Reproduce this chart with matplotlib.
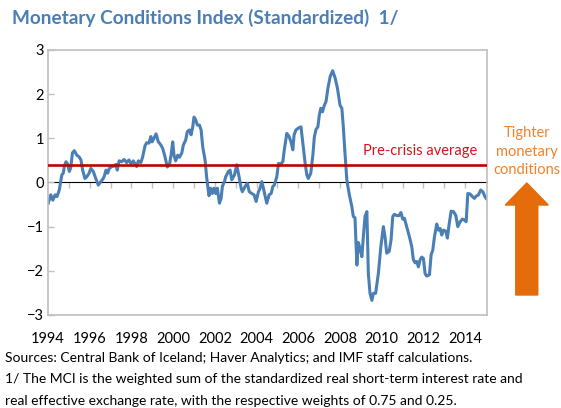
import matplotlib
matplotlib.use("Agg")
import matplotlib.pyplot as plt
from matplotlib.patches import FancyArrow

plt.rcParams["font.family"] = ["Lato", "DejaVu Sans"]

# Monetary conditions index (decimal years)
dates = [
    1994.01, 1994.13, 1994.23, 1994.34, 1994.43, 1994.54, 1994.66, 1994.73, 1994.78, 1994.86,
    1994.94, 1995.02, 1995.09, 1995.17, 1995.26, 1995.38, 1995.49, 1995.58, 1995.66, 1995.77,
    1995.86, 1995.97, 1996.05, 1996.17, 1996.29, 1996.41, 1996.53, 1996.62, 1996.69, 1996.78,
    1996.86, 1996.94, 1997.06, 1997.17, 1997.26, 1997.32, 1997.41, 1997.53, 1997.65, 1997.77,
    1997.88, 1997.98, 1998.09, 1998.17, 1998.25, 1998.33, 1998.45, 1998.54, 1998.65, 1998.73,
    1998.84, 1998.93, 1998.99, 1999.08, 1999.18, 1999.29, 1999.41, 1999.50, 1999.61, 1999.72,
    1999.82, 1999.90, 1999.98, 2000.04, 2000.12, 2000.22, 2000.30, 2000.41, 2000.49, 2000.60,
    2000.68, 2000.78, 2000.86, 2000.94, 2001.00, 2001.08, 2001.16, 2001.26, 2001.34, 2001.42,
    2001.53, 2001.61, 2001.72, 2001.80, 2001.88, 2001.96, 2002.04, 2002.12, 2002.22, 2002.30,
    2002.36, 2002.46, 2002.52, 2002.65, 2002.73, 2002.81, 2002.94, 2003.05, 2003.16, 2003.26,
    2003.32, 2003.45, 2003.56, 2003.65, 2003.77, 2003.88, 2003.98, 2004.09, 2004.17, 2004.25,
    2004.33, 2004.41, 2004.49, 2004.60, 2004.70, 2004.78, 2004.85, 2004.97, 2005.05, 2005.16,
    2005.26, 2005.33, 2005.45, 2005.56, 2005.65, 2005.74, 2005.80, 2005.89, 2006.00, 2006.13,
    2006.22, 2006.33, 2006.41, 2006.48, 2006.60, 2006.70, 2006.77, 2006.85, 2006.94, 2007.01,
    2007.08, 2007.16, 2007.25, 2007.33, 2007.42, 2007.53, 2007.65, 2007.77, 2007.88, 2008.00,
    2008.09, 2008.16, 2008.24, 2008.33, 2008.45, 2008.57, 2008.64, 2008.72, 2008.81, 2008.88,
    2008.96, 2009.05, 2009.12, 2009.20, 2009.29, 2009.36, 2009.44, 2009.53, 2009.60, 2009.71,
    2009.84, 2009.96, 2010.08, 2010.16, 2010.24, 2010.36, 2010.45, 2010.53, 2010.61, 2010.72,
    2010.83, 2010.92, 2011.01, 2011.09, 2011.20, 2011.33, 2011.44, 2011.52, 2011.60, 2011.68,
    2011.76, 2011.84, 2011.92, 2012.00, 2012.08, 2012.16, 2012.29, 2012.37, 2012.45, 2012.53,
    2012.64, 2012.72, 2012.80, 2012.88, 2012.96, 2013.07, 2013.15, 2013.23, 2013.33, 2013.44,
    2013.55, 2013.65, 2013.76, 2013.87, 2013.97, 2014.05, 2014.13, 2014.24, 2014.35, 2014.45,
    2014.53, 2014.64, 2014.75, 2014.85, 2014.95, 2015.01,
]
mci = [
    -0.47, -0.28, -0.40, -0.28, -0.32, -0.17, 0.17, 0.21, 0.36, 0.47,
    0.42, 0.25, 0.33, 0.67, 0.72, 0.62, 0.58, 0.51, 0.28, 0.09,
    0.13, 0.21, 0.32, 0.25, 0.09, -0.06, 0.02, 0.07, 0.13, 0.28,
    0.21, 0.32, 0.36, 0.37, 0.41, 0.28, 0.49, 0.47, 0.52, 0.45,
    0.51, 0.42, 0.49, 0.42, 0.36, 0.49, 0.45, 0.58, 0.83, 0.90,
    0.89, 1.04, 0.92, 1.00, 1.10, 0.92, 0.85, 0.77, 0.58, 0.35,
    0.40, 0.62, 0.92, 0.62, 0.49, 0.62, 0.57, 0.66, 0.85, 0.96,
    1.15, 1.19, 1.08, 1.26, 1.48, 1.42, 1.30, 1.30, 1.19, 0.80,
    0.51, 0.10, -0.30, -0.13, -0.25, -0.13, -0.25, -0.13, -0.47, -0.36,
    -0.09, 0.02, 0.13, 0.25, 0.28, 0.06, 0.17, 0.40, 0.13, -0.13,
    -0.21, -0.09, -0.02, -0.21, -0.25, -0.28, -0.43, -0.21, -0.13, 0.02,
    -0.13, -0.31, -0.47, -0.28, -0.25, -0.09, -0.06, 0.13, 0.43, 0.42,
    0.47, 0.74, 1.11, 1.04, 0.92, 0.74, 1.08, 1.19, 1.23, 1.26,
    0.89, 0.43, 0.17, 0.09, 0.21, 0.62, 1.03, 1.20, 1.26, 1.53,
    1.68, 1.60, 1.75, 1.83, 2.13, 2.40, 2.53, 2.36, 2.13, 1.75,
    1.68, 1.26, 0.66, 0.05, -0.28, -0.55, -0.77, -0.80, -1.87, -1.36,
    -1.49, -1.68, -1.23, -0.77, -0.66, -2.06, -2.51, -2.67, -2.51, -2.51,
    -2.06, -1.45, -1.00, -1.23, -1.60, -1.56, -1.30, -0.77, -0.72, -0.75,
    -0.75, -0.68, -0.83, -0.81, -1.00, -1.23, -1.45, -1.75, -1.82, -1.79,
    -1.91, -1.75, -1.69, -1.72, -2.06, -2.12, -2.09, -1.64, -1.53, -1.23,
    -0.94, -1.08, -1.04, -1.19, -1.08, -1.10, -1.26, -0.96, -0.65, -0.66,
    -0.74, -1.00, -0.89, -0.83, -0.85, -0.89, -0.25, -0.26, -0.32, -0.36,
    -0.31, -0.28, -0.17, -0.21, -0.32, -0.36,
]
pre_crisis_avg = 0.39

year_labels = list(range(1994, 2015, 2))
year_ticks = list(range(1995, 2015))
y_ticks = [-3, -2, -1, 0, 1, 2, 3]

BLUE = "#4a7fb5"
RED = "#c00000"
ORANGE = "#e46c0a"
GRAY = "#bfbfbf"

fig = plt.figure(figsize=(5.61, 4.08), dpi=100)
ax = fig.add_axes([0.0856, 0.228, 0.7825, 0.6495])

ax.plot(dates, mci, color=BLUE, lw=2.2, solid_joinstyle="round", zorder=2)
ax.axhline(pre_crisis_avg, color=RED, lw=1.9, zorder=3)

ax.set_xlim(1994.0, 2015.05)
ax.set_ylim(-3, 3)

for side in ["left", "right", "top", "bottom"]:
    ax.spines[side].set_color(GRAY)
    ax.spines[side].set_linewidth(1.2)

ax.set_yticks(y_ticks)
ax.tick_params(axis="y", direction="in", length=4, width=1, color=GRAY,
               labelsize=10.5, pad=3)
ax.set_xticks(year_labels)
ax.tick_params(axis="x", length=0, labelsize=10.5, pad=12.5)

# year ticks sit on the zero line
zero_axis = ax.secondary_xaxis(0.5)
zero_axis.set_xticks(year_ticks)
zero_axis.set_xticklabels([])
zero_axis.tick_params(direction="in", length=4, width=1, color=GRAY)
zero_axis.spines["bottom"].set_color(GRAY)
zero_axis.spines["bottom"].set_linewidth(1.2)

ax.text(2014.6, 0.72, "Pre-crisis average", color="#d2141e", fontsize=10.5,
        ha="right", va="center")

fig.text(0.021, 0.956, "Monetary Conditions Index (Standardized)  1/",
         color="#4a7eb5", fontsize=13.7, fontweight="bold", ha="left", va="center")

fig.text(0.939, 0.628, "Tighter\nmonetary\nconditions", color="#f0822d",
         fontsize=10.5, ha="center", va="center", linespacing=1.42)
fig.patches.append(FancyArrow(0.939, 0.277, 0, 0.2745, width=0.0392,
                              head_width=0.0766, head_length=0.054,
                              length_includes_head=True, color=ORANGE,
                              transform=fig.transFigure, figure=fig))

notes = [
    "Sources: Central Bank of Iceland; Haver Analytics; and IMF staff calculations.",
    "1/ The MCI is the weighted sum of the standardized real short-term interest rate and",
    "real effective exchange rate, with the respective weights of 0.75 and 0.25.",
]
for i, line in enumerate(notes):
    fig.text(0.009, 0.1225 - i * 0.0525, line, fontsize=10, ha="left", va="center")

fig.savefig("out.png", dpi=100)
